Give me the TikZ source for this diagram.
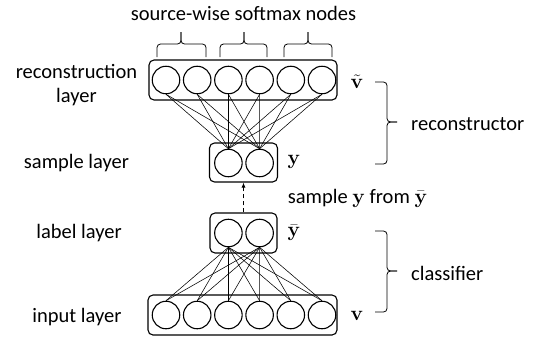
\documentclass[tikz,border=0pt]{standalone}
\usepackage[no-math]{fontspec}
\setmainfont{Carlito}
\usetikzlibrary{arrows.meta}
\begin{document}
\begin{tikzpicture}[x=1pt,y=-1pt,
  unit/.style={circle,draw,line width=1.1pt,minimum size=27.5pt,inner sep=0pt},
  layerbox/.style={draw,line width=1.1pt,rounded corners=5pt},
  conn/.style={line width=0.55pt},
  txt/.style={font=\fontsize{20.5}{24}\selectfont,inner sep=0pt},
  mathlbl/.style={font=\fontsize{21}{24}\selectfont,inner sep=0pt},
  bracestyle/.style={line width=0.8pt,rounded corners=3.5pt}
]
\useasboundingbox (0,0) rectangle (537,341);
% boxes
\node[layerbox,minimum width=188pt,minimum height=40pt] (recbox) at (243,80) {};
\node[layerbox,minimum width=68pt,minimum height=39pt] (sambox) at (243.5,162.5) {};
\node[layerbox,minimum width=67pt,minimum height=40pt] (labbox) at (243.5,233) {};
\node[layerbox,minimum width=189pt,minimum height=40pt] (inbox) at (242.5,315) {};
% units
\foreach \k in {1,...,6}{
  \node[unit] (t\k) at ({166+31.2*(\k-1)},80) {};
  \node[unit] (i\k) at ({166+31.2*(\k-1)},315) {};
}
\node[unit] (s1) at (228.4,163) {};
\node[unit] (s2) at (259.6,163) {};
\node[unit] (l1) at (228.4,233) {};
\node[unit] (l2) at (259.6,233) {};
% connections
\foreach \k in {1,...,6}{
  \foreach \j in {1,2}{
    \draw[conn] (t\k.south) -- (s\j.north);
    \draw[conn] (l\j.south) -- (i\k.north);
  }
}
% sampling arrow
\draw[line width=0.8pt,dash pattern=on 4pt off 3pt,-{Latex[length=5pt,width=4pt]}] (labbox.north) -- (sambox.south);
% top braces
\foreach \a/\b/\m in {157/206/181, 220/267/244, 284/332/308}{
  \draw[bracestyle] (\a,57) -- (\a,44) -- (\m,44) -- (\m,32);
  \draw[bracestyle] (\b,57) -- (\b,44) -- (\m,44) -- (\m,32);
}
% right braces
\foreach \a/\b/\m in {82/164/122, 231/312/271}{
  \draw[bracestyle] (375,\a) -- (387,\a) -- (387,\m) -- (397,\m);
  \draw[bracestyle] (375,\b) -- (387,\b) -- (387,\m) -- (397,\m);
}
% texts
\node[txt] (title) at (243.5,13) {source-wise softmax nodes};
\node[txt,align=center] (reclbl) at (76.5,85) {reconstruction\\layer};
\node[txt] (samlbl) at (76.5,163) {sample layer};
\node[txt] (lablbl) at (79,233) {label layer};
\node[txt] (inlbl) at (77,317) {input layer};
\node[mathlbl] (vt) at (357,82) {$\tilde{\mathbf{v}}$};
\node[mathlbl] (ys) at (294,162) {$\mathbf{y}$};
\node[mathlbl] (yb) at (294,233) {$\bar{\mathbf{y}}$};
\node[mathlbl] (vv) at (357,316) {$\mathbf{v}$};
\node[txt] (samtxt) at (357.5,198) {sample $\mathbf{y}$ from $\bar{\mathbf{y}}$};
\node[txt,anchor=west] (rectxt) at (411,124) {reconstructor};
\node[txt,anchor=west] (clstxt) at (411,273) {classifier};
\end{tikzpicture}
\end{document}
